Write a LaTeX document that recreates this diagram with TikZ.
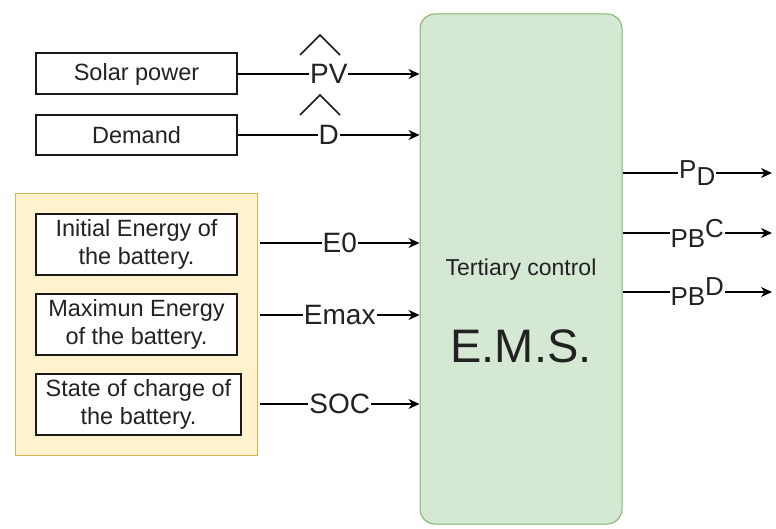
\documentclass[tikz,border=0pt]{standalone}
\usepackage{fontspec}
\setmainfont{Liberation Sans}
\usetikzlibrary{arrows.meta,calc}
\definecolor{emsfill}{HTML}{D5E8D4}
\definecolor{emsline}{HTML}{82B366}
\definecolor{grpfill}{HTML}{FFF2CC}
\definecolor{grpline}{HTML}{D6B656}
\definecolor{txt}{HTML}{222222}
\begin{document}
\begin{tikzpicture}[x=1pt,y=-1pt,
  inbox/.style={draw=black!90, line width=2pt, fill=white, inner sep=0pt, align=center, text=txt, font=\fontsize{23.5}{28}\selectfont},
  grpbox/.style={draw=grpline, line width=1pt, fill=grpfill, inner sep=0pt},
  emsbox/.style={draw=emsline, line width=1pt, fill=emsfill, rounded corners=15pt, inner sep=0pt},
  conn/.style={draw=black, line width=1.4pt, -{Stealth[length=11pt,width=10pt]}},
  lbl/.style={fill=white, inner sep=1pt, text=txt, font=\fontsize{28}{30}\selectfont},
  olbl/.style={fill=white, inner sep=1pt, text=txt, font=\fontsize{26}{28}\selectfont},
  hat/.style={draw=black!90, line width=1.6pt},
]
\useasboundingbox (0,0) rectangle (776,529);

% EMS block
\node[emsbox, minimum width=202, minimum height=510] (ems) at (521,269) {};
\node[text=txt, font=\fontsize{23}{26}\selectfont] (tert) at (521,270) {Tertiary control};
\node[text=txt, font=\fontsize{47}{50}\selectfont] (emsl) at (521,346) {E.M.S.};

% top inputs
\node[inbox, minimum width=201, minimum height=41] (sol) at (136.5,74) {Solar power};
\node[inbox, minimum width=201, minimum height=40] (dem) at (136.5,135) {Demand};

\draw[conn] (sol.east) -- node[lbl] (pv) {PV} (sol.east -| ems.west);
\draw[conn] (dem.east) -- node[lbl] (dl) {D} (dem.east -| ems.west);
\draw[hat] (300,55) -- (320,35) -- (340,55);
\draw[hat] (300,115) -- (320,95) -- (340,115);

% battery group
\node[grpbox, minimum width=242, minimum height=261] (grp) at (136,324.5) {};
\node[inbox, minimum width=201, minimum height=61] (b1) at (136.5,244.5) {Initial Energy of\\the battery.};
\node[inbox, minimum width=201, minimum height=61] (b2) at (136.5,324.5) {Maximun Energy\\of the battery.};
\node[inbox, minimum width=205, minimum height=61] (b3) at (138.5,404.5) {State of charge of\\the battery.};

\coordinate (s1) at (260,243);
\coordinate (s2) at (260,315);
\coordinate (s3) at (260,404);
\draw[conn] (s1) -- node[lbl] (e0) {E0} (s1 -| ems.west);
\draw[conn] (s2) -- node[lbl] (emax) {Emax} (s2 -| ems.west);
\draw[conn] (s3) -- node[lbl] (soc) {SOC} (s3 -| ems.west);

% outputs
\coordinate (o1) at (772,173);
\coordinate (o2) at (772,233);
\coordinate (o3) at (772,292);
\draw[conn] (o1 -| ems.east) -- node[olbl] (pd) {P\raisebox{-7pt}{D}} (o1);
\draw[conn] (o2 -| ems.east) -- node[olbl] (pbc) {PB\raisebox{10pt}{C}} (o2);
\draw[conn] (o3 -| ems.east) -- node[olbl] (pbd) {PB\raisebox{10pt}{D}} (o3);
\end{tikzpicture}
\end{document}
